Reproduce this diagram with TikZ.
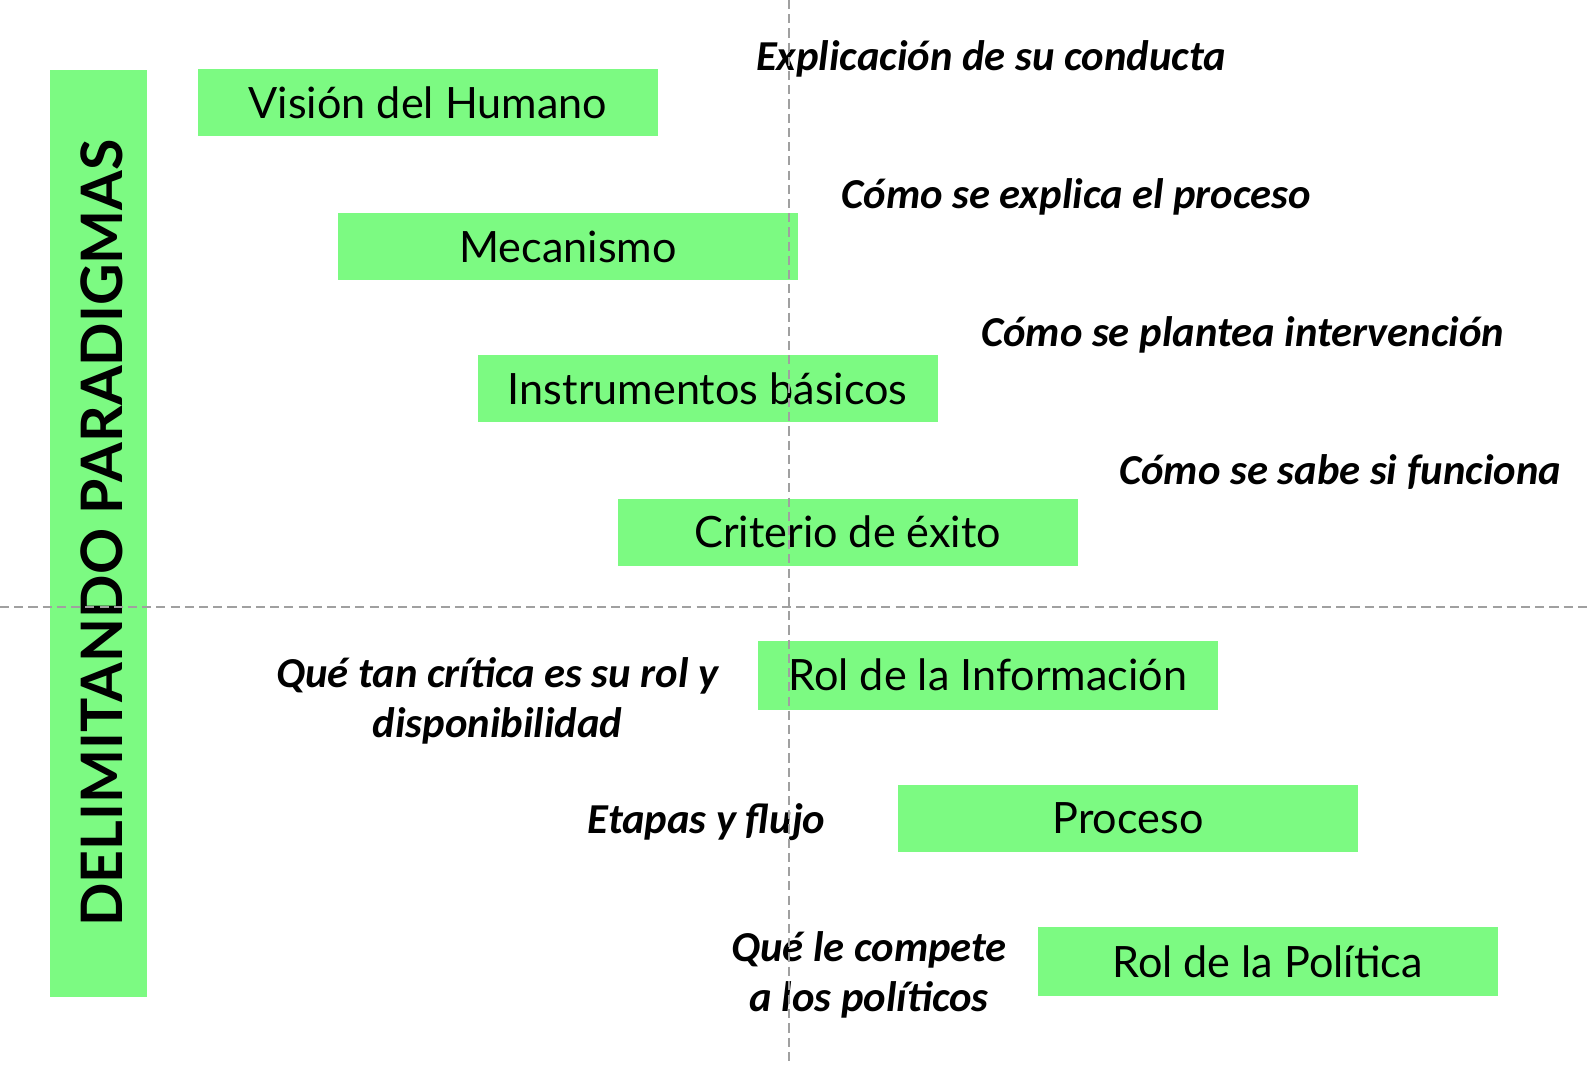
\documentclass[tikz,border=0pt]{standalone}
\usepackage{fontspec}
\setmainfont{Lato}
\newfontfamily\lblfont{Carlito}
\definecolor{boxgreen}{RGB}{124,250,130}
\definecolor{guide}{RGB}{160,160,160}
\begin{document}
\begin{tikzpicture}[x=1pt,y=-1pt,
  gbox/.style={fill=boxgreen,draw=none,minimum width=453pt,minimum height=66pt,inner sep=0pt,font=\fontsize{42.5}{48}\selectfont},
  lbl/.style={font=\lblfont\bfseries\itshape\fontsize{42}{49}\selectfont,inner sep=0pt,align=center},
  guideline/.style={guide,line width=1.5pt,dash pattern=on 9pt off 5pt}]
\useasboundingbox (0,0) rectangle (1568,1048);
\fill[boxgreen] (49,69) rectangle (145,982);
\node[rotate=90,font=\bfseries\fontsize{56.3}{60}\selectfont,inner sep=0pt] (title) at (100,525) {DELIMITANDO PARADIGMAS};
\node[gbox] (b1) at (421.5,101) {Visión del Humano};
\node[gbox] (b2) at (559.5,243) {Mecanismo};
\node[gbox] (b3) at (697,383) {Instrumentos básicos};
\node[gbox] (b4) at (835,524) {Criterio de éxito};
\node[gbox,minimum height=68pt] (b5) at (973,665) {Rol de la Información};
\node[gbox] (b6) at (1111,806) {Proceso};
\node[gbox,minimum height=68pt] (b7) at (1248.5,947) {Rol de la Política};
\node[lbl] (l1) at (976,58) {Explicación de su conducta};
\node[lbl] (l2) at (1060,194) {Cómo se explica el proceso};
\node[lbl] (l3) at (1224,330) {Cómo se plantea intervención};
\node[lbl] (l4) at (1320,465) {Cómo se sabe si funciona};
\node[lbl] (l5) at (490,690) {Qué tan crítica es su rol y\\disponibilidad};
\node[lbl] (l6) at (696,810) {Etapas y flujo};
\node[lbl] (l7) at (856,960) {Qué le compete\\a los políticos};
\coordinate (vt) at (777,0);
\coordinate (vb) at (777,1048);
\coordinate (hl) at (0,598);
\coordinate (hr) at (1568,598);
\draw[guideline] (vt) -- (vb);
\draw[guideline] (hl) -- (hr);
\end{tikzpicture}
\end{document}
